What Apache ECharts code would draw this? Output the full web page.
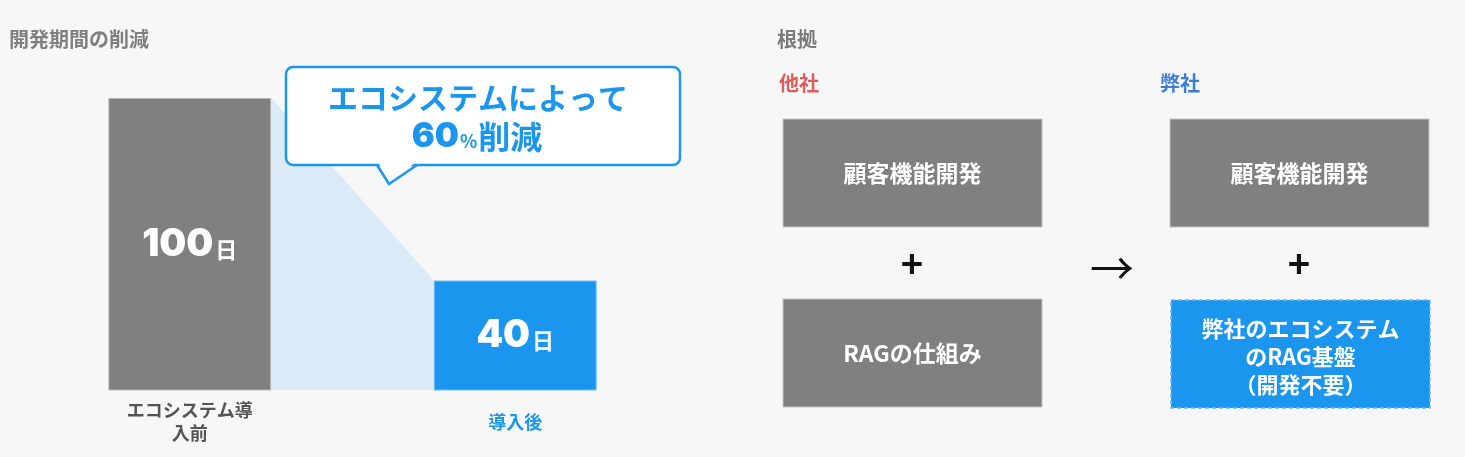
<!DOCTYPE html>
<html>
<head>
<meta charset="utf-8">
<script src="https://cdn.jsdelivr.net/npm/echarts@6/dist/echarts.min.js"></script>
<style>
html,body{margin:0;padding:0;background:#f7f7f7;}
#main{width:1465px;height:457px;}
</style>
</head>
<body>
<div id="main"></div>
<script>
// 開発期間のデータ
var categories = ['エコシステム導入前', '導入後'];
var days = [100, 40];
var unit = '日';
var bubbleLines = ['エコシステムによって', '60', '%', '削減'];
// 根拠のボックス
var otherBoxes = ['顧客機能開発', 'RAGの仕組み'];
var ourBoxes = ['顧客機能開発', '弊社のエコシステム\nのRAG基盤\n（開発不要）'];

var FONT = '"Noto Sans CJK JP", "Noto Sans", sans-serif';
var GRAY = '#808080';
var BLUE = '#1b96ee';

var myChart = echarts.init(document.getElementById('main'));

function titleItem(text, left, top, color) {
	return {
		text: text, left: left, top: top, padding: 0,
		textStyle: {fontFamily: FONT, fontSize: 20, fontWeight: 'bold', color: color}
	};
}

function boxItem(text, x, y, fill, dashed) {
	return {
		type: 'rect',
		shape: {x: x, y: y, width: 259, height: 108},
		style: {
			fill: fill,
			stroke: dashed ? '#6db8f3' : '#c4c4c4',
			lineWidth: dashed ? 1.5 : 1,
			lineDash: dashed ? [4, 3] : null
		},
		textContent: {
			style: {
				text: text, fill: '#fff', fontFamily: FONT, fontSize: dashed ? 22 : 23,
				fontWeight: 'bold', lineHeight: 28, align: 'center', verticalAlign: 'middle'
			}
		},
		textConfig: {position: 'inside', offset: [0, dashed ? 3 : 0]}
	};
}

function signItem(text, cx, cy, size, weight) {
	return {
		type: 'text', x: cx, y: cy,
		style: {
			text: text, fill: '#111', fontFamily: FONT, fontSize: size,
			fontWeight: weight, align: 'center', verticalAlign: 'middle'
		}
	};
}

var option = {
	backgroundColor: '#f7f7f7',
	animation: false,
	title: [
		titleItem('開発期間の削減', 9, 29, '#7f7f7f'),
		titleItem('根拠', 777, 29, '#7a7a7a'),
		titleItem('他社', 779, 73, '#e15b5b'),
		titleItem('弊社', 1160, 73, '#3b7ddd')
	],
	grid: {left: 27, top: 98, width: 651, height: 292},
	xAxis: {
		type: 'category',
		data: categories,
		axisLine: {show: false},
		axisTick: {show: false},
		axisLabel: {
			margin: 32,
			verticalAlign: 'middle',
			formatter: function(v, i) {
				var s = v.length > 7 ? v.slice(0, 7) + '\n' + v.slice(7) : v;
				return i == 0 ? '{a|' + s.replace('\n', '}\n{a|') + '}' : '{b|' + s + '}';
			},
			rich: {
				a: {fontFamily: FONT, fontSize: 18, fontWeight: 'bold', color: '#555', lineHeight: 23},
				b: {fontFamily: FONT, fontSize: 18, fontWeight: 'bold', color: BLUE, lineHeight: 23}
			}
		}
	},
	yAxis: {
		type: 'value', min: 4, max: 100, show: false,
		splitLine: {show: false}
	},
	series: [
		{
			// 2本の棒をつなぐ薄い青の面
			type: 'custom',
			z: 1,
			data: [[0, days[0], 1, days[1]]],
			renderItem: function(params, api) {
				var p0 = api.coord([api.value(0), api.value(1)]);
				var p1 = api.coord([api.value(2), api.value(3)]);
				var base = api.coord([0, 4])[1];
				var hw = api.size([1, 0])[0] * 0.25;
				return {
					type: 'polygon',
					shape: {points: [[p0[0] + hw, p0[1]], [p1[0] - hw, p1[1]], [p1[0] - hw, base], [p0[0] + hw, base]]},
					style: {fill: '#daeaf7'}
				};
			}
		},
		{
			type: 'bar',
			z: 2,
			barWidth: '50%',
			data: [
				{value: days[0], itemStyle: {color: GRAY, borderColor: '#b8b8b8', borderWidth: 1}},
				{value: days[1], itemStyle: {color: BLUE, borderColor: '#6cbaf3', borderWidth: 1}}
			],
			label: {
				show: true,
				position: 'inside',
				formatter: function(p) { return '{n|' + p.value + '}{u|' + unit + '}'; },
				rich: {
					n: {fontFamily: 'Inter, ' + FONT, fontSize: 38, fontWeight: 900, color: '#fff'},
					u: {fontFamily: FONT, fontSize: 22, fontWeight: 'bold', color: '#fff', padding: [10, 0, 0, 2]}
				}
			}
		}
	],
	graphic: [
		// 吹き出し
		{
			type: 'rect', z: 10,
			shape: {x: 286, y: 67, width: 394, height: 98, r: 7},
			style: {fill: '#fff', stroke: BLUE, lineWidth: 2.5}
		},
		{
			type: 'polygon', z: 11,
			shape: {points: [[378, 162], [389, 183], [416, 162]]},
			style: {fill: '#fff'}
		},
		{
			type: 'polyline', z: 12,
			shape: {points: [[377, 165], [389, 184], [417, 165]]},
			style: {stroke: BLUE, lineWidth: 2.5, fill: null}
		},
		{
			type: 'text', z: 13, x: 478, y: 98,
			style: {
				text: bubbleLines[0], fill: BLUE, fontFamily: FONT, fontSize: 30,
				fontWeight: 'bold', align: 'center', verticalAlign: 'middle'
			}
		},
		{
			type: 'text', z: 13, x: 477, y: 137,
			style: {
				text: '{d|' + bubbleLines[1] + '}{p|' + bubbleLines[2] + '}{n|' + bubbleLines[3] + '}',
				align: 'center', verticalAlign: 'middle',
				rich: {
					d: {fill: BLUE, fontFamily: 'Inter, ' + FONT, fontSize: 34, fontWeight: 900},
					n: {fill: BLUE, fontFamily: FONT, fontSize: 32, fontWeight: 'bold'},
					p: {fill: BLUE, fontFamily: FONT, fontSize: 18, fontWeight: 'bold', padding: [9, 1, 0, 1]}
				}
			}
		},
		// 根拠の図
		boxItem(otherBoxes[0], 783, 119, GRAY, false),
		boxItem(otherBoxes[1], 783, 299, GRAY, false),
		boxItem(ourBoxes[0], 1170, 119, GRAY, false),
		boxItem(ourBoxes[1], 1171, 300, BLUE, true),
		signItem('+', 912, 264, 38, 'bold'),
		signItem('+', 1299, 264, 38, 'bold'),
		signItem('→', 1112, 268, 44, 'normal')
	]
};

myChart.setOption(option);
</script>
</body>
</html>
